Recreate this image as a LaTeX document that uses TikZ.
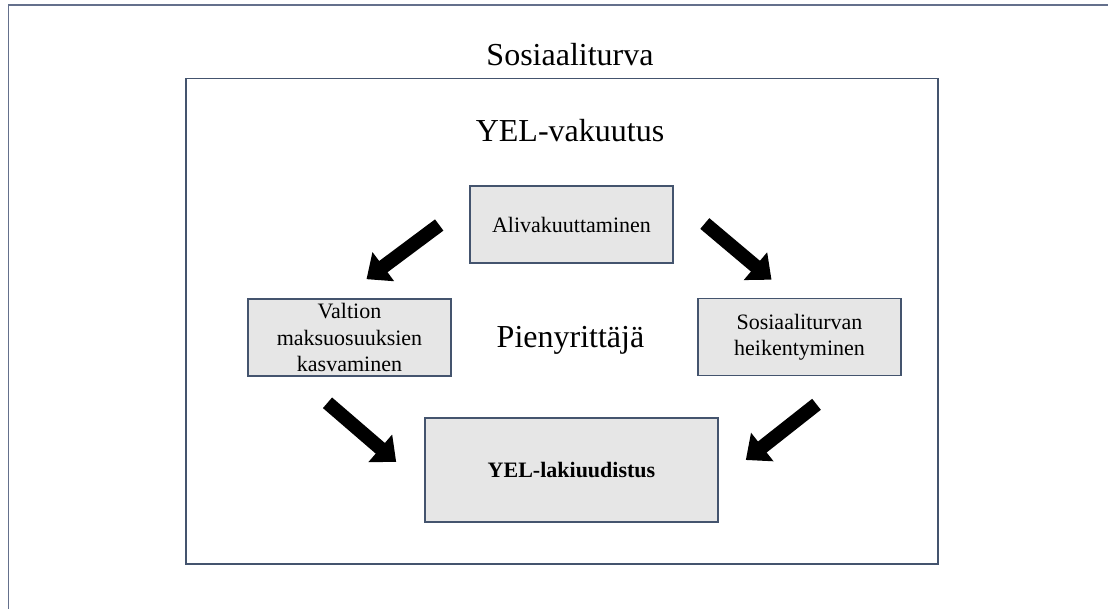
\documentclass[tikz,border=0pt]{standalone}
\usepackage{fontspec}
\setmainfont{Liberation Serif}
\usetikzlibrary{arrows.meta}
\definecolor{rand}{RGB}{68,84,110}
\definecolor{randhell}{RGB}{100,112,140}
\definecolor{kasti}{RGB}{230,230,230}
\begin{document}
\begin{tikzpicture}[x=1pt,y=-1pt,
    laatikko/.style={draw=rand,line width=1.6pt,fill=kasti,minimum width=203pt,minimum height=77pt,inner sep=1pt,align=center,font=\fontsize{22}{26.5}\selectfont},
    otsikko/.style={anchor=base,font=\fontsize{32}{38}\selectfont},
    nuoli/.style={line width=14pt,-{Triangle[width=35pt,length=21pt]}}]
\useasboundingbox (0,0) rectangle (1108,609);
\clip (0,0) rectangle (1108,609);
% kehykset
\draw[randhell,line width=1.9pt] (8.5,5) rectangle (1130,630);
\draw[rand,line width=1.9pt] (186,78.5) rectangle (938,564);
\node[otsikko] (turva) at (570,66) {Sosiaaliturva};
\node[otsikko] (yel) at (570,142) {YEL-vakuutus};
\node[otsikko] (yrittaja) at (570.5,348) {Pienyrittäjä};
% laatikot
\node[laatikko] (ali) at (571.5,224.5) {Alivakuuttaminen};
\node[laatikko] (valtio) at (349.5,337.5) {Valtion\\maksuosuuksien\\kasvaminen};
\node[laatikko] (heikko) at (799.5,337) {Sosiaaliturvan\\heikentyminen};
\node[laatikko,minimum width=293pt,minimum height=104pt] (uudistus) at (571.5,470) {\textbf{YEL-lakiuudistus}};
% nuolet
\draw[nuoli] ([shift={(-30,0.5)}]ali.west) -- ([shift={(17,-19)}]valtio.north);
\draw[nuoli] ([shift={(31,-1)}]ali.east) -- ([shift={(-28,-18)}]heikko.north);
\draw[nuoli] ([shift={(-22,26)}]valtio.south) -- ([shift={(-28,-8)}]uudistus.west);
\draw[nuoli] ([shift={(17,28)}]heikko.south) -- ([shift={(27,-10)}]uudistus.east);
\end{tikzpicture}
\end{document}
